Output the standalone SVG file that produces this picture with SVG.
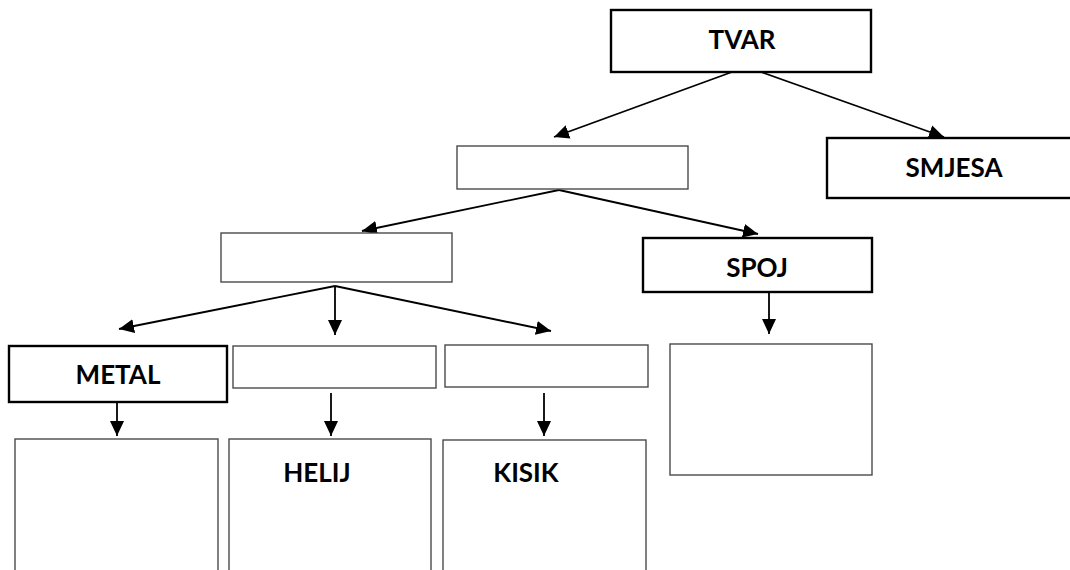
<svg xmlns="http://www.w3.org/2000/svg" width="1070" height="570" viewBox="0 0 1070 570">
<defs>
<style>
.bold{fill:#fff;stroke:#000;stroke-width:2.4}
.thin{fill:#fff;stroke:#4a4a4a;stroke-width:1.4}
.lbl{font-family:Lato,"Liberation Sans",sans-serif;font-weight:bold;font-size:26px;fill:#000;text-anchor:middle}
.con{stroke:#000;stroke-width:1.8;fill:none;marker-end:url(#ah)}
</style>
<marker id="ah" markerUnits="userSpaceOnUse" markerWidth="17" markerHeight="15" refX="15" refY="7" orient="auto" viewBox="0 0 17 14">
<path d="M0,0 L15,7 L0,14 Z" fill="#000"/>
</marker>
</defs>
<rect width="1070" height="570" fill="#fff"/>
<g id="connectors">
<line class="con" x1="732" y1="72" x2="554" y2="137"/>
<line class="con" x1="761" y1="72" x2="944" y2="137"/>
<line class="con" x1="559" y1="190" x2="362" y2="231"/>
<line class="con" x1="559" y1="190" x2="758" y2="234"/>
<line class="con" x1="335" y1="286" x2="119" y2="329"/>
<line class="con" x1="335" y1="286" x2="335" y2="335"/>
<line class="con" x1="335" y1="286" x2="551" y2="331"/>
<line class="con" x1="117" y1="402" x2="117" y2="436"/>
<line class="con" x1="331" y1="393" x2="331" y2="436"/>
<line class="con" x1="544" y1="393" x2="544" y2="436"/>
<line class="con" x1="769" y1="293" x2="769" y2="334"/>
</g>
<g id="tvar"><rect class="bold" x="611" y="10" width="260" height="62"/><text class="lbl" x="742" y="49">TVAR</text></g>
<g id="box2"><rect class="thin" x="457" y="146" width="231" height="43"/></g>
<g id="smjesa"><rect class="bold" x="827" y="138" width="260" height="60"/><text class="lbl" x="954" y="177">SMJESA</text></g>
<g id="box3"><rect class="thin" x="221" y="233" width="231" height="49"/></g>
<g id="spoj"><rect class="bold" x="643" y="238" width="229" height="54"/><text class="lbl" x="757" y="277">SPOJ</text></g>
<g id="metal"><rect class="bold" x="9" y="346" width="218" height="56"/><text class="lbl" x="118" y="384">METAL</text></g>
<g id="box-helij-top"><rect class="thin" x="233" y="346" width="203" height="42"/></g>
<g id="box-kisik-top"><rect class="thin" x="445" y="345" width="203" height="42"/></g>
<g id="box-spoj-bottom"><rect class="thin" x="670" y="344" width="202" height="131"/></g>
<g id="box-metal-bottom"><rect class="thin" x="15" y="439" width="203" height="145"/></g>
<g id="helij"><rect class="thin" x="229" y="439" width="202" height="145"/><text class="lbl" x="317" y="482">HELIJ</text></g>
<g id="kisik"><rect class="thin" x="443" y="440" width="203" height="145"/><text class="lbl" x="526" y="482">KISIK</text></g>
</svg>
